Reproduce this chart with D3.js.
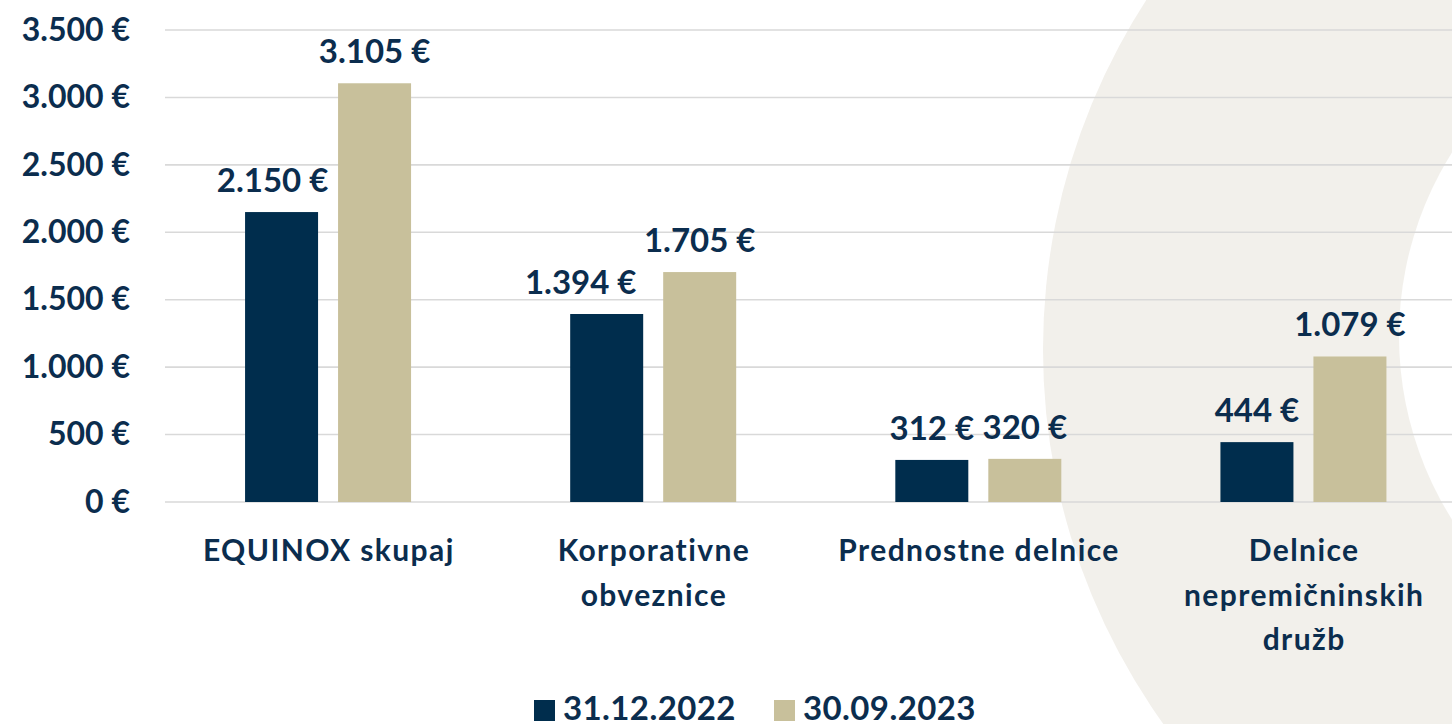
<!DOCTYPE html>
<html>
<head>
<meta charset="utf-8">
<script src="https://cdn.jsdelivr.net/npm/d3@7"></script>
<style>
  html, body { margin: 0; padding: 0; background: #fff; }
  svg { display: block; }
  text { font-family: Lato, "Open Sans", sans-serif; font-weight: 700; fill: #0B2D4E; }
</style>
</head>
<body>
<svg id="chart" width="1452" height="724"></svg>
<script>
const categories = [
  ["EQUINOX skupaj"],
  ["Korporativne", "obveznice"],
  ["Prednostne delnice"],
  ["Delnice", "nepremičninskih", "družb"]
];
const seriesNames = ["31.12.2022", "30.09.2023"];
const values2022 = [2150, 1394, 312, 444];
const values2023 = [3105, 1705, 320, 1079];
const yTicks = [0, 500, 1000, 1500, 2000, 2500, 3000, 3500];
const colors = ["#002D4D", "#C8C09B"];
// manual nudges of value labels (px), as placed in the original
const labelNudge = [[-9, 0], [-26, 0], [0, 0], [0, 0]];

const svg = d3.select("#chart");
const W = 1452, H = 724;

// background decorative ring
const defs = svg.append("defs");
const mask = defs.append("mask").attr("id", "ringMask");
mask.append("rect").attr("width", W).attr("height", H).attr("fill", "#fff");
mask.append("circle").attr("cx", 1743).attr("cy", 336).attr("r", 344).attr("fill", "#000");
svg.append("circle").attr("cx", 1686).attr("cy", 349.5).attr("r", 643)
  .attr("fill", "#F2F0EB").attr("mask", "url(#ringMask)");

const catKeys = categories.map(c => c.join(" "));
const x0 = d3.scaleBand().domain(catKeys).range([165.5, 1466]).padding(0);
const x1 = d3.scaleBand().domain(seriesNames).range([-83, 83]).paddingInner(20 / 93).paddingOuter(0);
const y = d3.scaleLinear().domain([0, 3500]).range([502, 30]);

// gridlines
svg.append("g").selectAll("line").data(yTicks).join("line")
  .attr("x1", 165).attr("x2", W)
  .attr("y1", d => y(d)).attr("y2", d => y(d))
  .attr("stroke", "#D9D9D9").attr("stroke-width", 1.6);

// y axis labels
const fmt = v => d3.format(",")(v).replace(/,/g, ".") + " €";
const yAxis = d3.axisLeft(y).tickValues(yTicks).tickSize(0).tickPadding(0).tickFormat(fmt);
const gy = svg.append("g").attr("transform", "translate(130,0)").call(yAxis);
gy.select(".domain").remove();
gy.selectAll("text").attr("font-size", 32).attr("fill", "#0B2D4E")
  .attr("font-family", "Lato, sans-serif").attr("font-weight", 700);

const data = catKeys.map((k, i) => ({ key: k, i, vals: [values2022[i], values2023[i]] }));

const groups = svg.append("g").selectAll("g").data(data).join("g")
  .attr("transform", d => `translate(${x0(d.key) + x0.bandwidth() / 2},0)`);

const barData = d => d.vals.map((v, j) => ({ s: seriesNames[j], v, j, i: d.i }));

groups.selectAll("rect").data(barData).join("rect")
  .attr("x", d => x1(d.s)).attr("width", x1.bandwidth())
  .attr("y", d => y(d.v)).attr("height", d => y(0) - y(d.v))
  .attr("fill", d => colors[d.j]);

groups.selectAll("text.val").data(barData).join("text")
  .attr("class", "val")
  .attr("x", d => x1(d.s) + x1.bandwidth() / 2 + labelNudge[d.i][d.j])
  .attr("y", d => y(d.v) - 20)
  .attr("text-anchor", "middle").attr("font-size", 33)
  .text(d => fmt(d.v));

// category labels
groups.each(function(d, i) {
  const t = d3.select(this).append("text").attr("text-anchor", "middle")
    .attr("font-size", 30).attr("letter-spacing", 1.4);
  categories[i].forEach((line, li) => {
    t.append("tspan").attr("x", 0.7).attr("y", 561 + li * 44.5).text(line);
  });
});

// legend
const legend = svg.append("g");
const legX = [534, 774];
seriesNames.forEach((s, j) => {
  legend.append("rect").attr("x", legX[j]).attr("y", 700).attr("width", 21).attr("height", 21).attr("fill", colors[j]);
  legend.append("text").attr("x", legX[j] + 29).attr("y", 720).attr("font-size", 33)
    .attr("letter-spacing", 0.4).text(s);
});
</script>
</body>
</html>
